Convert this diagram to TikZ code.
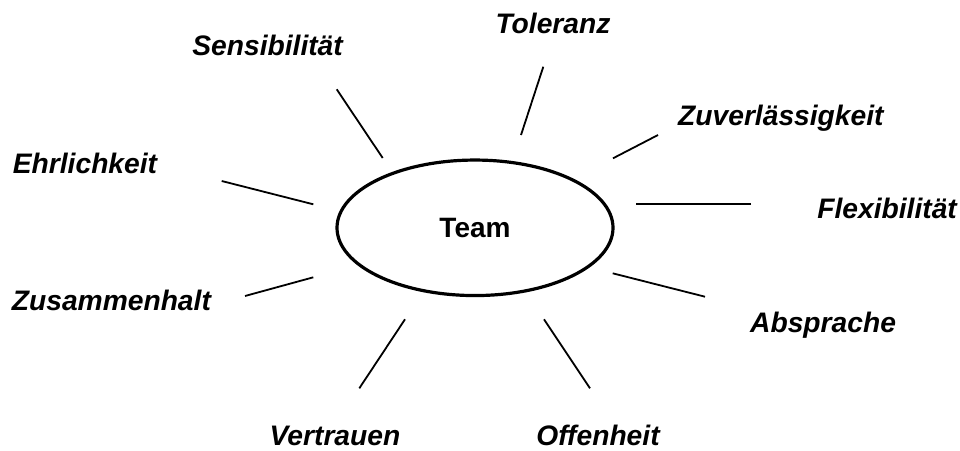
\documentclass[tikz,border=0pt]{standalone}
\usepackage{fontspec}
\setmainfont{Liberation Sans}
\usetikzlibrary{shapes.geometric}

\begin{document}
\begin{tikzpicture}[
  x=1pt, y=-1pt,
  every node/.style={font=\fontsize{28}{33}\selectfont\bfseries, inner sep=0pt},
  lbl/.style={font=\fontsize{28.2}{33}\selectfont\bfseries\itshape},
  core/.style={draw, ellipse, line width=3.2pt, minimum width=276pt, minimum height=135.5pt},
  spoke/.style={line width=1.8pt}
]
\useasboundingbox (0,0) rectangle (960,450);
\node[core] (team) at (475,227.8) {Team};

% Begriffe rundherum
\node[lbl, anchor=base east] (sens) at (343,55.5) {Sensibilität};
\node[lbl, anchor=base] (tol) at (553,33.3) {Toleranz};
\node[lbl, anchor=base west] (zuv) at (678,125) {Zuverlässigkeit};
\node[lbl, anchor=base west] (ehr) at (12.7,173) {Ehrlichkeit};
\node[lbl, anchor=base east] (flex) at (957,218.3) {Flexibilität};
\node[lbl, anchor=base west] (zus) at (11.7,310) {Zusammenhalt};
\node[lbl, anchor=base west] (abs) at (750,332) {Absprache};
\node[lbl, anchor=base] (vert) at (335,445.5) {Vertrauen};
\node[lbl, anchor=base] (off) at (598,445.5) {Offenheit};

% Strahlen
\coordinate (sensA) at (336.7,89.3);  \coordinate (sensB) at (382.7,158);
\coordinate (tolA) at (543.3,66.7);   \coordinate (tolB) at (521,135);
\coordinate (zuvA) at (658,135);      \coordinate (zuvB) at (613,158.3);
\coordinate (ehrA) at (221.7,181);    \coordinate (ehrB) at (313.3,204.3);
\coordinate (flexA) at (751,204);     \coordinate (flexB) at (636,204);
\coordinate (zusA) at (245,296);      \coordinate (zusB) at (313.3,277.3);
\coordinate (absA) at (705,296.7);    \coordinate (absB) at (612.7,273.3);
\coordinate (vertA) at (359.3,388.3); \coordinate (vertB) at (405,319.3);
\coordinate (offA) at (590,388.3);    \coordinate (offB) at (544,319.3);

\foreach \s in {sens,tol,zuv,ehr,flex,zus,abs,vert,off}
  \draw[spoke] (\s A) -- (\s B);
\end{tikzpicture}
\end{document}
